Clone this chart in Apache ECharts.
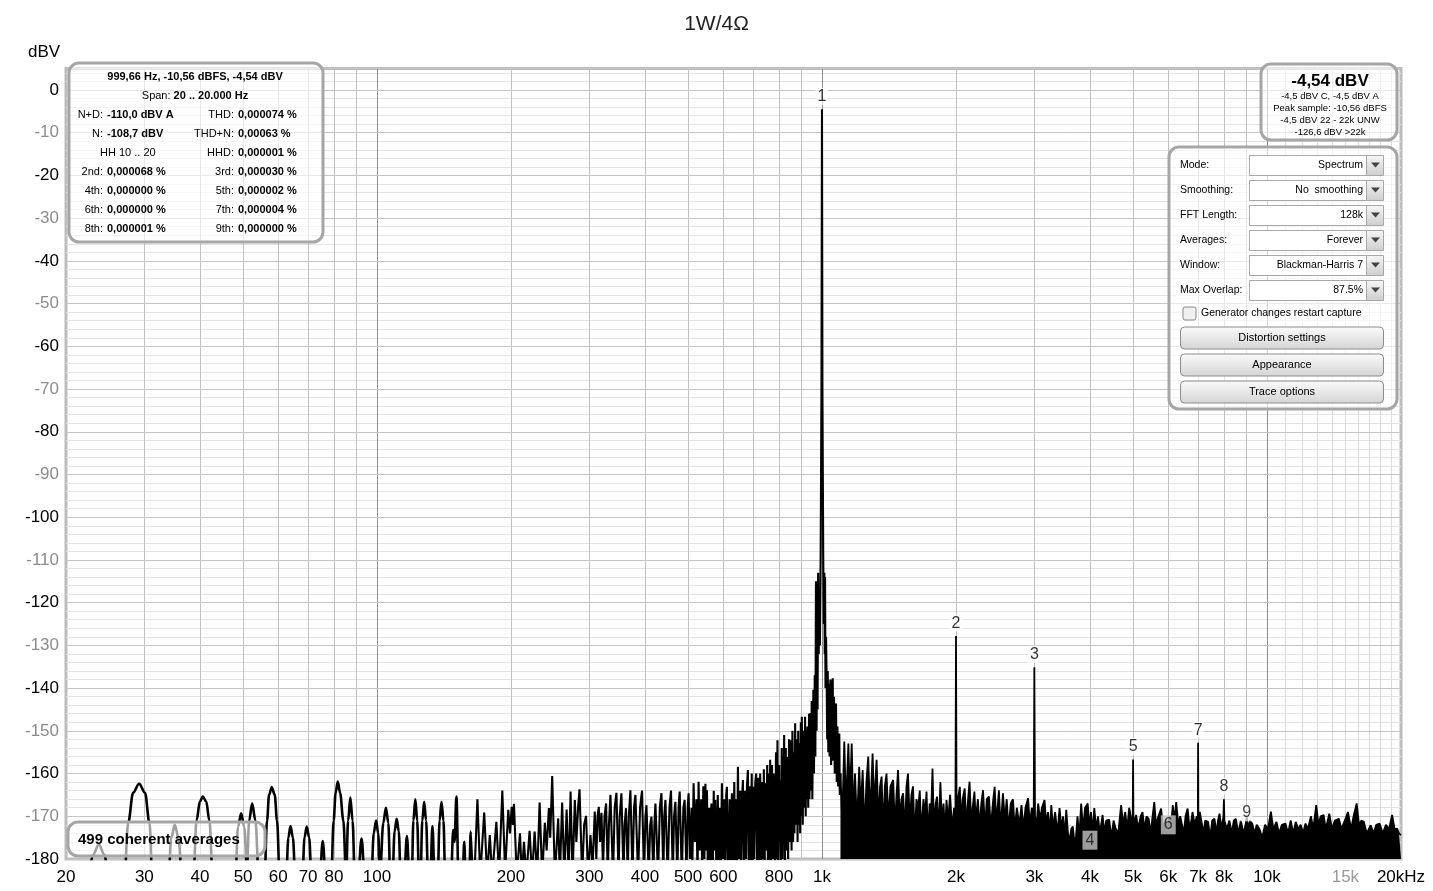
<!DOCTYPE html>
<html><head><meta charset="utf-8">
<script src="https://cdn.jsdelivr.net/npm/echarts@6/dist/echarts.min.js"></script>
<style>html,body{margin:0;padding:0;background:#fff}#c{width:1433px;height:891px}</style>
</head><body><div id="c"></div>
<script>
const FONT = '"Liberation Sans", Arial, sans-serif';

// ---- axis ticks ----
const xTickValues = [20,30,40,50,60,70,80,100,200,300,400,500,600,800,1000,2000,3000,4000,5000,6000,7000,8000,10000,15000,20000];
const xTickLabels = ['20','30','40','50','60','70','80','100','200','300','400','500','600','800','1k','2k','3k','4k','5k','6k','7k','8k','10k','15k','20kHz'];
const gridDecades = [100,1000,10000];
const gridMinor = [30,40,50,60,70,80,90,200,300,400,500,600,700,800,900,2000,3000,4000,5000,6000,7000,8000,9000];
const gridFine = [11000,12000,13000,14000,15000,16000,17000,18000,19000];

// ---- spectrum: low-frequency lobes (Hz, dBV) ----
const lowLobes = [
[22.4,-186],[23.0,-179],[23.7,-176.6],[24.4,-179],[25.0,-186],
[27.0,-186],[27.6,-171.5],[28.3,-164.5],[29.2,-162.4],[30.1,-164.5],[30.8,-171.5],[31.3,-186],
[33.9,-186],[34.5,-175],[35.1,-172],[35.8,-175],[36.5,-186],
[38.6,-186],[39.3,-171],[40.0,-166.5],[40.6,-165.4],[41.3,-166.5],[42.0,-171],[42.8,-186],
[48.0,-186],[48.7,-172.5],[49.5,-169.3],[50.3,-172.5],[51.0,-182],[51.6,-171],[52.4,-167],[53.3,-171],[54.3,-186],
[55.8,-186],[56.6,-171],[57.2,-165],[58.0,-163.2],[58.9,-165],[59.6,-171],[60.5,-186],
[62.4,-186],[63.2,-175],[63.9,-172.3],[64.7,-175],[65.6,-186],
[67.9,-186],[68.7,-175],[69.5,-172.4],[70.4,-175],[71.3,-186],
[74.2,-186],[75.5,-175.8],[76.8,-186],
[78.8,-186],[79.9,-171],[80.7,-164.5],[81.6,-161.9],[82.6,-164.5],[84.0,-171],[85.2,-184],[86.1,-171],[87.1,-165.6],[88.1,-171],[89.2,-186],
[90.5,-186],[92.3,-175.2],[94.0,-186],
[97.0,-186],[98.3,-174],[99.5,-171],[100.6,-174],[101.5,-184],[103.3,-171.5],[104.7,-168],[106.0,-171.5],[107.2,-186],
[108.2,-186],[109.5,-173.5],[110.7,-170.6],[111.9,-173.5],[113.1,-186],
[114.9,-186],[116.7,-174.6],[118.4,-186],
[119.6,-186],[120.7,-171],[121.9,-166],[123.1,-171],[124.2,-184],[125.2,-184],[126.4,-171],[127.6,-166.6],[128.9,-171],[130.3,-186],
[131.6,-186],[133.2,-172.3],[134.8,-186],
[136.8,-186],[138.2,-171],[139.6,-166.6],[141.0,-171],[142.4,-186],
[146.5,-186],[148.3,-173.2],[149.3,-176],[150.8,-165.4],[152.5,-186],
[155.6,-186],[157.0,-176],[158.4,-186],
[161.0,-186],[162.4,-173.6],[163.8,-186]
];

// ---- spectrum: 165 Hz .. 1.1 kHz incl. fundamental ----
const midSpectrum = [
[163.8,-186],[165.5,-184],[168.1,-166.0],[170.6,-184],[174.1,-169.1],[176.8,-184],[179.2,-174.4],[181.5,-184],[185.4,-171.3],[188,-184],[191.2,-164.0],[194,-183],[197.2,-168.5],[199,-174],[200.7,-167.8],[202,-172],[203.1,-167.1],[206,-184],[209.5,-174.0],[211.5,-184],[213.9,-176.0],[216.5,-184],[220.2,-173.4],[223,-184],[226.0,-173.6],[229,-184],[231.9,-166.8],[235,-184],[238.3,-171.5],[240.5,-178],[243.3,-168.1],[245,-175],[247.5,-160.6],[251,-184],[255.3,-170.5],[257.5,-184],[260.6,-166.8],[263.5,-184],[266.7,-168.4],[269.5,-184],[272.2,-164.2],[275,-184],
[278.3,-166.2],[280.5,-176],[283,-168],[285.1,-163.7],[289,-184],[292,-172],[294.9,-169.9],[298,-184],[301.7,-174.4],[305,-182],[308.5,-168.9],[311,-180],[313,-170],[315.0,-167.8],[317,-176],[319.4,-169.2],[322,-182],[324.5,-170],[327.1,-167.0],[330,-184],[332,-172],[334.6,-165.0],[339,-184],[342,-168],[345.1,-164.5],[349,-184],[351,-170],[354.1,-164.6],[358,-184],[360,-172],[362.6,-168.1],[366,-184],[368,-170],[371.0,-163.9],[375,-184],[378,-168],[380.7,-165.0],[386,-184],[390,-168],[394.0,-164.0],[398,-184],[401,-170],[403.1,-167.4],[408,-184],[411,-172],[413.7,-170.1],[418,-184],[420,-172],[422.3,-167.0],[428,-184],[432,-168],[435.6,-164.6],[440,-184],[442,-170],[444.7,-166.2],[450,-184],[454,-168],[457.7,-164.0],[462,-184],[465,-170],[468.2,-166.6],[473,-184],[476,-168],[478.7,-164.2],[484,-184],[488,-168],[491.2,-166.2],[496,-184],[499,-168],
[501.4,-164.6],[505,-180],[509,-168],[511,-182],[514.5,-162.3],[518,-176],[522,-166],[525,-184],[527.9,-161.9],[531,-178],[535,-166],[538,-183],[541,-163],[544,-180],[547,-162.4],[549,-178],[551.3,-163.9],[554,-184],[558,-168],[561,-182],[564,-167],[568,-184],[571,-164],[573,-178],[575.5,-166.2],[579,-184],[583,-165],[586,-182],[589,-168],[592,-184],[595.6,-162.3],[599,-180],[603,-166],[606,-184],[609,-165],[611.2,-163.1],[615,-184],[620,-166],[623,-182],[627.2,-164.6],[631,-184],[635,-162],[638,-182],[642,-166],[644,-184],[647.1,-158.4],[651,-180],[655,-164],[658,-184],[661,-166],[664.0,-161.5],[668,-184],[672,-164],[675,-180],[678,-163],[681.4,-159.2],[685,-184],[689,-163],[692,-182],[695,-160],[698,-184],[701.5,-163.1],[704,-180],[708,-162],[711.2,-160.0],[715,-184],[719,-161],[722,-182],[726.1,-160.0],[730,-184],[734,-162],[737,-180],[740,-159],[743,-184],[745.1,-162.3],[749,-178],[753,-158],[756,-184],[759,-160],[761,-182],[764.6,-156.8],[768,-184],[772,-158],[775,-180],[778,-160],[780.5,-163.1],[784,-184],[788,-155],[791,-180],[794.0,-152.2],[797,-182],[801,-158],[803,-176],[805.1,-161.5],[808,-182],[812,-154],[815,-180],[818,-156],[820,-176],[821.9,-151.0],[825,-182],[829,-154],[832,-178],[836.0,-156.1],[839,-180],[843,-152],[846,-176],[850.9,-152.2],[854,-178],[858,-150],[861,-176],[864,-155],[867,-174],[870.1,-148.2],[874,-172],[878,-152],[881,-176],[884,-150],[886,-172],[889.5,-152.9],[893,-174],[896,-148],[898,-170],[900.6,-146.7],[905,-172],[909,-150],[912,-168],[916.0,-146.7],[919,-170],[922,-150],[925,-166],[927.1,-149.0],[931,-168],[935,-146],[937,-166],[940.0,-145.9],[944,-164],[948,-143],[951,-166],[956.1,-140.4],[959,-160],[963,-137],[966,-156],[969,-115],[972,-150],[975,-128],[977,-145],[980,-113],[983,-132],[986,-118],[989,-130],[993,-108],[997,-70],[999.66,-4.54],[1002,-70],[1006,-108],[1009,-125],[1012,-113],[1014,-132],[1015.6,-114],[1018,-140],[1021,-128],[1024.6,-140.1],[1027,-152],[1030,-136],[1033,-155],[1036,-139],[1040,-156],[1044,-138],[1048,-158],[1052,-141],[1056.8,-137.7],[1060,-157],[1064,-142],[1068,-160],[1071,-146],[1074.9,-143.6],[1079,-162],[1083,-149],[1087,-163],[1093.4,-150.6],[1096,-165],[1100,-160]
];

// ---- spectrum: 1.1 kHz .. 20 kHz (dense noise floor with harmonics) ----
const highSpectrum = [
[1100,-160],[1110,-171],[1122,-152.5],[1132,-168],[1146,-153],[1155,-166],[1166,-153],[1176,-170],[1186,-160],[1198,-172],[1212,-158.4],[1222,-168],[1234,-159.2],[1246,-174],[1258,-162],[1270,-156],[1282,-170],[1299,-155.3],[1310,-168],[1326,-156.8],[1340,-172],[1350,-163],[1361,-160.7],[1372,-174],[1384,-163],[1396,-160],[1410,-171],[1425,-163],[1445,-161.5],[1458,-173],[1470,-165],[1482,-159.2],[1495,-171],[1508,-166],[1521,-164.6],[1535,-174],[1548,-163],[1560,-160],[1575,-172],[1588,-165],[1601,-163],[1615,-175],[1630,-166],[1645,-168],[1658,-164],[1672,-174],[1690,-166],[1705,-170],[1717,-164.2],[1730,-175],[1745,-167],[1758,-170],[1771,-158.8],[1783,-172],[1800,-167],[1813,-165.4],[1828,-174],[1845,-162],[1860,-172],[1875,-167],[1890,-174],[1904,-166.2],[1920,-171],[1940,-165],[1960,-173],[1980,-168],[1994,-170],
[2000,-127.8],
[2006,-170],[2020,-166],[2040,-163.1],[2055,-172],[2070,-166],[2092,-163.5],[2110,-173],[2125,-167],[2145,-161.9],[2165,-172],[2180,-168],[2200,-164.2],[2215,-171],[2240,-166],[2260,-173],[2280,-167],[2300,-163.9],[2325,-173],[2345,-166],[2372,-165.4],[2395,-173],[2420,-167],[2443,-163.1],[2465,-172],[2497,-163.9],[2520,-173],[2550,-164.6],[2575,-171],[2600,-166],[2625,-173],[2655,-167],[2686,-166],[2710,-173],[2740,-168],[2775,-172],[2807,-167.4],[2835,-173],[2865,-168],[2904,-165.8],[2930,-172],[2960,-168],[2990,-170],
[3000,-135.1],
[3010,-170],[3035,-172],[3060,-167],[3090,-171],[3120,-168],[3162,-166.2],[3190,-172],[3220,-169],[3250,-174],[3275,-167.4],[3305,-173],[3340,-169],[3380,-174],[3418,-168.1],[3450,-173],[3480,-170],[3510,-175],[3538,-168.5],[3570,-174],[3600,-176],[3630,-173],[3661,-172.4],[3690,-176],[3720,-175],[3750,-170],[3785,-175],[3822,-167],[3860,-173],[3900,-168],[3954,-167],[3990,-173],[4020,-169],[4050,-174],[4091,-168.1],[4130,-173],[4170,-170],[4210,-174],[4270,-169.7],[4310,-174],[4350,-171],[4418,-170.8],[4470,-175],[4520,-171],[4570,-172.9],[4630,-174],[4700,-167.4],[4750,-172],[4800,-169],[4850,-173],[4900,-168],[4960,-171],[4990,-172],
[5000,-156.7],
[5010,-172],[5080,-169.7],[5130,-173],[5200,-170],[5250,-169],[5300,-173],[5360,-170],[5420,-170.6],[5480,-174],[5530,-170],[5580,-166.7],[5630,-172],[5700,-170],[5780,-168.2],[5840,-173],[5930,-170.6],[5980,-174],[6040,-170],[6090,-172],[6140,-167.4],[6190,-171],[6250,-166.7],[6320,-172],[6380,-170],[6430,-169.7],[6500,-174],[6560,-170],[6630,-168.2],[6700,-173],[6760,-171],[6800,-169],[6880,-172],[6950,-170],[6990,-171],
[7000,-152.8],
[7010,-171],[7060,-169],[7120,-169],[7200,-174],[7260,-171],[7370,-171.3],[7450,-175],[7530,-171],[7620,-170.6],[7700,-174],[7760,-171],[7820,-169.4],[7900,-173],[7980,-170],
[8000,-166],
[8020,-171],[8120,-173],[8230,-171],[8330,-174],[8420,-171],[8510,-170.6],[8620,-174],[8730,-171],[8850,-174],[8950,-172],[9000,-170],[9050,-173],[9150,-171],[9260,-171.7],[9380,-174],[9480,-172],[9610,-172.9],[9750,-175],[9900,-172],[10050,-173],[10200,-168.9],[10330,-173],[10500,-171.3],[10640,-174],[10800,-172],[11000,-171.7],[11150,-174],[11300,-171],[11450,-174],[11600,-171.3],[11750,-173],[11900,-172],[12050,-174],[12200,-171.7],[12350,-173],[12550,-170],[12700,-173],[12900,-167.4],[13050,-172],[13200,-170],[13400,-169.7],[13550,-173],[13800,-169.4],[14000,-173],[14200,-171],[14500,-170.6],[14700,-173],[14950,-171],[15200,-169],[15450,-173],[15650,-170],[15900,-167],[16100,-172],[16300,-171],[16500,-171.3],[16750,-174],[17100,-172.1],[17350,-174],[17600,-172],[17900,-171.7],[18200,-174],[18500,-172],[18800,-173],[19100,-169.7],[19350,-173],[19600,-172.9],[19800,-174],[20000,-174.4]
];

// ---- harmonic markers ----
const harmonicNames  = ['1','2','3','4','5','6','7','8','9'];
const harmonicFreqs  = [999.66,2000,3000,4000,5000,6000,7000,8000,9000];
const harmonicLevels = [-4.54,-127.8,-135.1,-175.6,-156.7,-172,-152.8,-166,-169.2];
const harmonicBelowFloor = [false,false,false,true,false,true,false,false,true];

// ---- overlay texts ----
const infoTitle = '999,66 Hz, -10,56 dBFS, -4,54 dBV';
const infoRows = [
  ['N+D:','-110,0 dBV A','THD:','0,000074 %'],
  ['N:','-108,7 dBV','THD+N:','0,00063 %'],
  ['', 'HH 10 .. 20','HHD:','0,000001 %'],
  ['2nd:','0,000068 %','3rd:','0,000030 %'],
  ['4th:','0,000000 %','5th:','0,000002 %'],
  ['6th:','0,000000 %','7th:','0,000004 %'],
  ['8th:','0,000001 %','9th:','0,000000 %']
];
const levelLines = ['-4,5 dBV C, -4,5 dBV A','Peak sample: -10,56 dBFS','-4,5 dBV 22 - 22k UNW','-126,6 dBV >22k'];
const panelRows = [['Mode:','Spectrum'],['Smoothing:','No  smoothing'],['FFT Length:','128k'],['Averages:','Forever'],['Window:','Blackman-Harris 7'],['Max Overlap:','87.5%']];
const panelButtons = ['Distortion settings','Appearance','Trace options'];

const chart = echarts.init(document.getElementById('c'), null, {renderer:'canvas'});

function t(x, y, text, o) {
  return {type:'text', x:x, y:y, z:102, silent:true,
    style:Object.assign({text:text, fill:'#000', fontFamily:FONT, fontSize:11, align:'left', verticalAlign:'middle'}, o||{})};
}
function roundBox(x, y, w, h) {
  return {type:'rect', z:100, silent:true, shape:{x:x,y:y,width:w,height:h,r:10},
    style:{fill:'rgba(255,255,255,0.62)', stroke:'#a6a6a6', lineWidth:3}};
}
const g = [];
g.push(t(28, 52, 'dBV', {fontSize:17}));
g.push(roundBox(69, 63, 254, 179));
g.push(t(195, 77, infoTitle, {align:'center', fontWeight:'bold'}));
g.push(t(195, 96, '{n|Span: }{b|20 .. 20.000 Hz}', {align:'center', rich:{n:{fontSize:11,fontFamily:FONT}, b:{fontSize:11,fontFamily:FONT,fontWeight:'bold'}}}));
infoRows.forEach((r, i) => {
  const y = 115 + i * 19;
  if (r[0]) {
    g.push(t(103, y, r[0], {align:'right'}));
    g.push(t(107, y, r[1], {fontWeight:'bold'}));
  } else {
    g.push(t(100, y, r[1]));
  }
  g.push(t(234, y, r[2], {align:'right'}));
  g.push(t(238, y, r[3], {fontWeight:'bold'}));
});
g.push(roundBox(1261, 64, 136, 76));
g.push(t(1330, 81, '-4,54 dBV', {align:'center', fontWeight:'bold', fontSize:17}));
levelLines.forEach((s, i) => g.push(t(1330, 96 + i * 12, s, {align:'center', fontSize:9.5})));
g.push(roundBox(1169, 147, 228, 262));
const fieldGrad = new echarts.graphic.LinearGradient(0,0,0,1,[{offset:0,color:'#f7f7f7'},{offset:1,color:'#cdcdcd'}]);
panelRows.forEach((r, i) => {
  const cy = 165.5 + i * 25;
  g.push(t(1180, cy, r[0], {fontSize:10.5}));
  g.push({type:'rect', z:101, silent:true, shape:{x:1249.5,y:cy-10,width:117,height:20}, style:{fill:'#fff', stroke:'#a8a8a8', lineWidth:1}});
  g.push({type:'rect', z:101, silent:true, shape:{x:1366.5,y:cy-10,width:17,height:20}, style:{fill:fieldGrad, stroke:'#a8a8a8', lineWidth:1}});
  g.push({type:'polygon', z:102, silent:true, shape:{points:[[1371,cy-3],[1380,cy-3],[1375.5,cy+2]]}, style:{fill:'#444'}});
  g.push(t(1363, cy, r[1], {align:'right', fontSize:10.5}));
});
g.push({type:'rect', z:101, silent:true, shape:{x:1183,y:307,width:13,height:13,r:2}, style:{fill:'#f0f0f0', stroke:'#8a8a8a', lineWidth:1}});
g.push(t(1201, 313.5, 'Generator changes restart capture', {fontSize:10.5}));
const btnGrad = new echarts.graphic.LinearGradient(0,0,0,1,[{offset:0,color:'#fbfbfb'},{offset:1,color:'#d4d4d4'}]);
panelButtons.forEach((s, i) => {
  const y = 327 + i * 27;
  g.push({type:'rect', z:101, silent:true, shape:{x:1180.5,y:y,width:203,height:22,r:4}, style:{fill:btnGrad, stroke:'#8c8c8c', lineWidth:1}});
  g.push(t(1282, y + 11, s, {align:'center', fontSize:11}));
});
g.push(roundBox(68, 822, 197, 34));
g.push(t(78, 840, '499 coherent averages', {fontWeight:'bold', fontSize:15}));

function xLabel(v) {
  for (let i = 0; i < xTickValues.length; i++) {
    if (Math.abs(Math.log10(v / xTickValues[i])) < 1e-6) {
      return xTickValues[i] === 15000 ? '{g|' + xTickLabels[i] + '}' : xTickLabels[i];
    }
  }
  return '';
}

const vLines = [].concat(
  gridFine.map(f => ({xAxis:f, lineStyle:{color:'#dcdcdc', width:1, type:'solid'}})),
  gridMinor.map(f => ({xAxis:f, lineStyle:{color:'#c2c2c2', width:1, type:'solid'}})),
  gridDecades.map(f => ({xAxis:f, lineStyle:{color:'#8e8e8e', width:1, type:'solid'}}))
);

const labelData = harmonicFreqs.map((f, i) => {
  const below = harmonicBelowFloor[i];
  let lab;
  if (below && i !== 8) {
    lab = {show:true, position:'inside', formatter:harmonicNames[i], fontSize:16, fontFamily:FONT, color:'#111', backgroundColor:'#c4c4c4', padding:[2,3,1,3]};
  } else if (below) {
    lab = {show:true, position:'inside', formatter:harmonicNames[i], fontSize:16, fontFamily:FONT, color:'#111', backgroundColor:'rgba(255,255,255,0.85)', padding:[1,2,0,2]};
  } else {
    lab = {show:true, position:'top', distance:4, formatter:harmonicNames[i], fontSize:16, fontFamily:FONT, color:'#000', backgroundColor:'rgba(255,255,255,0.9)', padding:[1,2,0,2]};
  }
  return {value:[f, harmonicLevels[i]], label:lab};
});

chart.setOption({
  animation:false,
  backgroundColor:'#fff',
  title:{text:'1W/4Ω', left:'center', top:9, textStyle:{fontFamily:FONT, fontSize:21, fontWeight:'normal', color:'#222'}},
  grid:{left:66, right:32, top:68.6, bottom:32, show:true, borderColor:'#bcbcbc', borderWidth:3, backgroundColor:'transparent'},
  xAxis:{type:'log', logBase:10, min:20, max:20000,
    axisLine:{show:false}, axisTick:{show:false}, splitLine:{show:false}, minorSplitLine:{show:false},
    axisLabel:{customValues:xTickValues, formatter:xLabel, margin:10, fontSize:17, fontFamily:FONT, color:'#000', rich:{g:{color:'#9a9a9a', fontSize:17, fontFamily:FONT}}}},
  yAxis:[
    {type:'value', min:-180, max:5, interval:10, z:2,
      axisLine:{show:false}, axisTick:{show:false},
      splitLine:{lineStyle:{color:'#c4c4c4', width:1}},
      axisLabel:{margin:7, formatter:v => v > 0 ? '' : (Math.round(v) % 20 === 0 ? '{b|' + v + '}' : '{g|' + v + '}'),
        rich:{b:{color:'#000', fontSize:17, fontFamily:FONT}, g:{color:'#8c8c8c', fontSize:17, fontFamily:FONT}}}},
    {type:'value', min:-180, max:5, interval:2, z:1, position:'left',
      axisLine:{show:false}, axisTick:{show:false}, axisLabel:{show:false},
      splitLine:{show:true, lineStyle:{color:'#e4e4e4', width:1}}}
  ],
  graphic:{elements:g},
  series:[
    {type:'line', name:'grid', data:[], silent:true, z:1,
      markLine:{silent:true, z:1, symbol:['none','none'], label:{show:false}, lineStyle:{type:'solid'}, animation:false, data:vLines}},
    {type:'line', name:'lobes', data:lowLobes, showSymbol:false, symbol:'none', smooth:0.35, smoothMonotone:'x', z:10,
      lineStyle:{color:'#000', width:2.6}, clip:true},
    {type:'line', name:'mid', data:midSpectrum, showSymbol:false, symbol:'none', z:10,
      lineStyle:{color:'#000', width:2.1}, clip:true},
    {type:'line', name:'high', data:highSpectrum, showSymbol:false, symbol:'none', z:10,
      lineStyle:{color:'#000', width:1.8}, areaStyle:{color:'#000', opacity:1, origin:'start'}, clip:true},
    {type:'scatter', name:'harmonics', data:labelData, symbolSize:1, itemStyle:{color:'rgba(0,0,0,0)'}, z:12, silent:true}
  ]
});
</script></body></html>
